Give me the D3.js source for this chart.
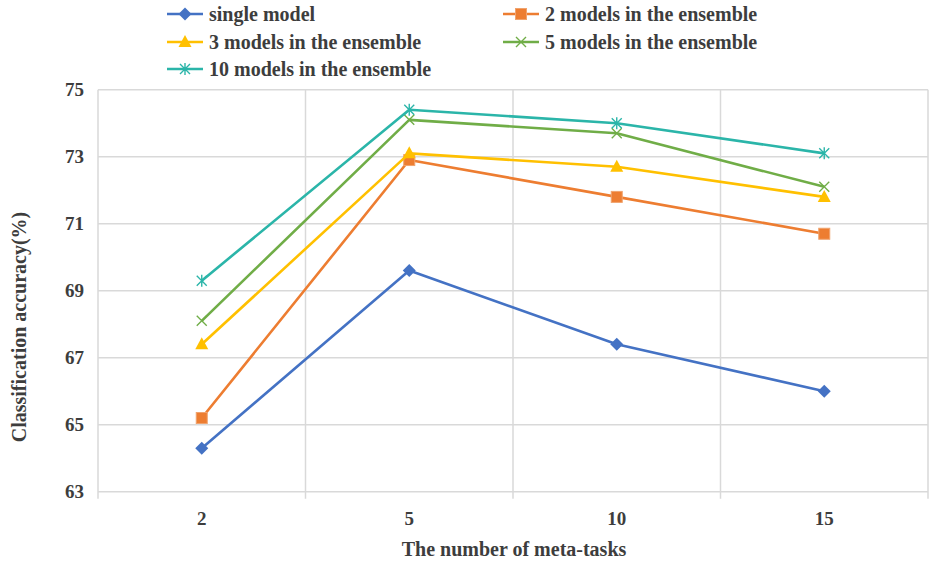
<!DOCTYPE html>
<html><head><meta charset="utf-8">
<script src="https://cdn.jsdelivr.net/npm/d3@7"></script>
<style>body{margin:0;background:#fff}svg{display:block}</style>
</head><body><svg id="c" width="935" height="564" font-family="'Liberation Serif', 'DejaVu Serif', 'Times New Roman', serif" font-weight="bold"></svg>
<script>
const categories = ["2","5","10","15"];
const yTicks = [63,65,67,69,71,73,75];
const seriesNames = ["single model","2 models in the ensemble","3 models in the ensemble","5 models in the ensemble","10 models in the ensemble"];
const singleModel = [64.3,69.6,67.4,66.0];
const models2 = [65.2,72.9,71.8,70.7];
const models3 = [67.4,73.1,72.7,71.8];
const models5 = [68.1,74.1,73.7,72.1];
const models10 = [69.3,74.4,74.0,73.1];
const colors = ["#4472C4","#ED7D31","#FFC000","#70AD47","#2BB5A9"];
const markers = ["diamond","square","triangle","x","star"];
const seriesValues = [singleModel,models2,models3,models5,models10];
const textColor = "#3d3d3d";

const svg = d3.select("#c");
const L=98,R=928,T=89.7,B=491.7;
const x = d3.scaleBand().domain(categories).range([L,R]);
const y = d3.scaleLinear().domain([63,75]).range([B,T]);
const grid="#d9d9d9";

svg.append("g").selectAll("line").data(yTicks).join("line")
  .attr("x1",L).attr("x2",R).attr("y1",d=>y(d)).attr("y2",d=>y(d))
  .attr("stroke",grid).attr("stroke-width",1.5);
const bounds = categories.map(c=>x(c)).concat([x(categories[categories.length-1])+x.bandwidth()]);
svg.append("g").selectAll("line").data(bounds).join("line")
  .attr("x1",d=>d).attr("x2",d=>d).attr("y1",T).attr("y2",B+7)
  .attr("stroke",grid).attr("stroke-width",1.5);

svg.append("g").selectAll("text").data(yTicks).join("text")
  .attr("x",84).attr("y",d=>y(d)).attr("dy","0.35em").attr("text-anchor","end")
  .attr("font-size",19).attr("fill",textColor).text(d=>d);
svg.append("g").selectAll("text").data(categories).join("text")
  .attr("x",d=>x(d)+x.bandwidth()/2).attr("y",525).attr("text-anchor","middle")
  .attr("font-size",19).attr("fill",textColor).text(d=>d);
svg.append("text").attr("x",514).attr("y",556).attr("text-anchor","middle").attr("font-size",20).attr("fill",textColor)
  .text("The number of meta-tasks");
svg.append("text").attr("transform","translate(26,327) rotate(-90)").attr("text-anchor","middle").attr("font-size",20).attr("fill",textColor)
  .text("Classification accuracy(%)");

function drawMarker(g,type,cx,cy,color){
  if(type==="diamond"){
    g.append("path").attr("d",`M${cx},${cy-6.5}L${cx+6.5},${cy}L${cx},${cy+6.5}L${cx-6.5},${cy}Z`).attr("fill",color);
  } else if(type==="square"){
    g.append("rect").attr("x",cx-5.5).attr("y",cy-5.5).attr("width",11).attr("height",11).attr("fill",color).attr("stroke","#f0a36e").attr("stroke-width",1);
  } else if(type==="triangle"){
    g.append("path").attr("d",`M${cx},${cy-7}L${cx+6.5},${cy+5}L${cx-6.5},${cy+5}Z`).attr("fill",color);
  } else if(type==="x"){
    g.append("path").attr("d",`M${cx-5},${cy-5}L${cx+5},${cy+5}M${cx-5},${cy+5}L${cx+5},${cy-5}`).attr("stroke",color).attr("stroke-width",1.4).attr("fill","none");
  } else {
    g.append("path").attr("d",`M${cx-5},${cy-5}L${cx+5},${cy+5}M${cx-5},${cy+5}L${cx+5},${cy-5}M${cx},${cy-6}L${cx},${cy+6}`).attr("stroke",color).attr("stroke-width",1.4).attr("fill","none");
  }
}

const line = d3.line().x((d,i)=>x(categories[i])+x.bandwidth()/2).y(d=>y(d));
seriesValues.forEach((vals,s)=>{
  const g = svg.append("g");
  g.append("path").attr("d",line(vals)).attr("fill","none").attr("stroke",colors[s]).attr("stroke-width",2.6).attr("stroke-linejoin","round");
  vals.forEach((v,i)=>drawMarker(g,markers[s],x(categories[i])+x.bandwidth()/2,y(v),colors[s]));
});

const legPos = [[167,14],[503,14],[167,42],[503,42],[167,69]];
seriesNames.forEach((n,s)=>{
  const [lx,ly]=legPos[s];
  const g=svg.append("g");
  g.append("line").attr("x1",lx).attr("x2",lx+36).attr("y1",ly).attr("y2",ly).attr("stroke",colors[s]).attr("stroke-width",2.6);
  drawMarker(g,markers[s],lx+18,ly,colors[s]);
  g.append("text").attr("x",lx+42).attr("y",ly).attr("dy","0.35em").attr("font-size",20).attr("fill",textColor).text(n);
});
</script></body></html>
